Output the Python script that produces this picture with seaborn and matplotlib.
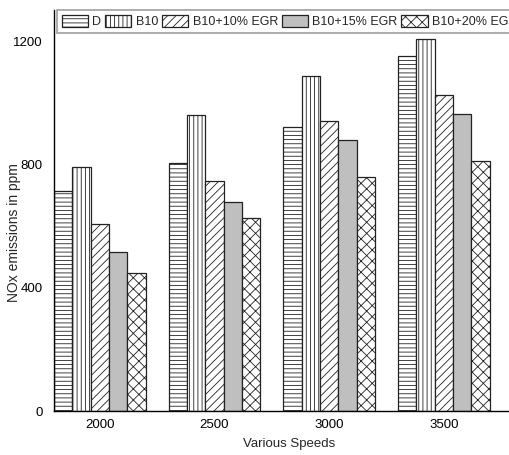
import matplotlib
matplotlib.use("Agg")
import matplotlib.pyplot as plt
import seaborn as sns
import pandas as pd

# values
speeds = ["2000", "2500", "3000", "3500"]
fuels = ["D", "B10", "B10+10% EGR", "B10+15% EGR", "B10+20% EGR"]
nox_d = [715, 806, 925, 1154]
nox_b10 = [794, 962, 1089, 1209]
nox_egr10 = [607, 749, 943, 1028]
nox_egr15 = [518, 679, 880, 967]
nox_egr20 = [450, 627, 761, 814]

hatches = ["----", "||||", "////", "", "xxx"]
fills = ["white", "white", "white", "#bfbfbf", "white"]

rows = []
for fuel, vals in zip(fuels, [nox_d, nox_b10, nox_egr10, nox_egr15, nox_egr20]):
    for sp, v in zip(speeds, vals):
        rows.append({"Speed": sp, "Fuel": fuel, "NOx": v})
df = pd.DataFrame(rows)

sns.set_style("white")
plt.rcParams["font.family"] = ["Liberation Sans", "DejaVu Sans"]
plt.rcParams["hatch.linewidth"] = 0.6
plt.rcParams["hatch.color"] = "#222222"

fig = plt.figure(figsize=(5.1, 4.55), dpi=100)
ax = fig.add_axes([54 / 510, 1 - 411 / 455, 470 / 510, 401 / 455])

sns.barplot(data=df, x="Speed", y="NOx", hue="Fuel", order=speeds,
            hue_order=fuels, ax=ax, legend=False, saturation=1,
            edgecolor="#222222", linewidth=0.9)

for cont, h, fc in zip(ax.containers, hatches, fills):
    for bar in cont:
        bar.set_facecolor(fc)
        bar.set_hatch(h)

ax.set_xlim(-0.4, 3.7)
ax.set_ylim(0, 1304)
ax.set_yticks([0, 400, 800, 1200])
ax.tick_params(length=0, labelsize=9.5, colors="black")
ax.tick_params(axis="y", pad=8)
ax.tick_params(axis="x", pad=6)
ax.set_xlabel("Various Speeds", fontsize=9.5, labelpad=5)
ax.set_ylabel("NOx emissions in ppm", fontsize=10)
ax.yaxis.set_label_coords(-0.071, 0.446)

for s in ["top", "right"]:
    ax.spines[s].set_visible(False)
for s in ["left", "bottom"]:
    ax.spines[s].set_color("black")
    ax.spines[s].set_linewidth(1.0)

leg = ax.legend(ax.containers, fuels, ncol=5, loc="upper left",
                bbox_to_anchor=(0.006, 1.0), fontsize=9, frameon=True,
                fancybox=False, edgecolor="#888888", handlelength=2.1,
                handleheight=1.1, handletextpad=0.35, columnspacing=0.3,
                borderpad=0.4, borderaxespad=0.0)
leg.get_frame().set_linewidth(1.2)

fig.savefig("out.png", dpi=100)
